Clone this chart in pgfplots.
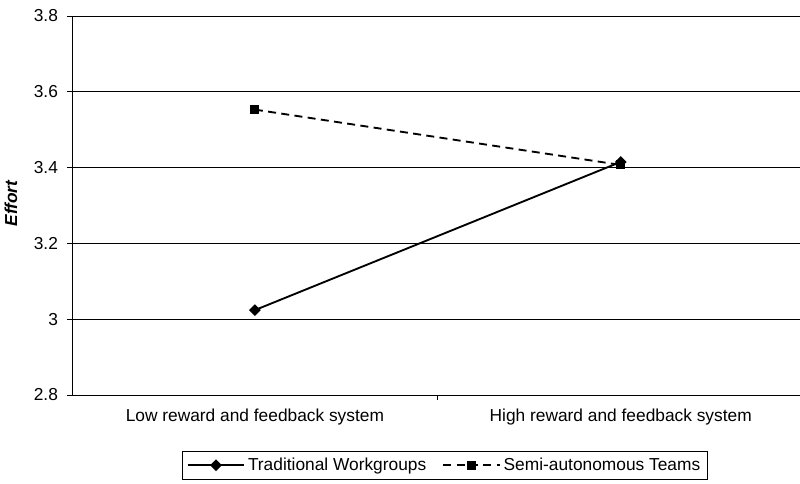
\documentclass[border=0pt]{standalone}
\usepackage{pgfplots}
\pgfplotsset{compat=1.18}
\usepackage{fontspec}
\setmainfont{Liberation Sans}
\begin{document}
\begin{tikzpicture}
\useasboundingbox (-54pt,-66pt) rectangle (546pt,296.25pt);
\begin{axis}[
    at={(0pt,0pt)}, anchor=south west,
    scale only axis,
    width=546pt, height=284.25pt,
    xmin=0, xmax=1.99,
    ymin=2.8, ymax=3.8,
    ytick={2.8,3.0,3.2,3.4,3.6,3.8},
    /pgf/number format/assume math mode=true,
    axis x line*=bottom, axis y line*=left,
    axis line style={black, line width=0.7pt},
    ymajorgrids=true,
    grid style={black, line width=0.6pt},
    tick align=outside,
    major tick length=4pt,
    tick style={black, line width=0.7pt},
    xtick={0.5,1.5},
    xticklabels={Low reward and feedback system, High reward and feedback system},
    major x tick style={draw=none},
    extra x ticks={1},
    extra x tick labels={},
    extra x tick style={major x tick style={draw=black, line width=0.7pt}, grid=none},
    yticklabel style={font=\fontsize{13}{15}\selectfont, xshift=-3pt},
    xticklabel style={font=\fontsize{13}{15}\selectfont, yshift=-3pt},
    ylabel={\bfseries\itshape Effort},
    ylabel style={font=\fontsize{13}{15}\selectfont, at={(axis description cs:-0.084,0.505)}, anchor=center},
    legend style={at={(axis description cs:0.512,-0.148)}, anchor=north,
        legend columns=2, draw=black,
        font=\fontsize{13}{15}\selectfont,
        inner sep=3pt,
        /tikz/every even column/.append style={column sep=10pt}},
    legend image code/.code={\draw[line width=1.4pt, mark repeat=2, mark phase=2] plot coordinates {(0cm,0cm)(0.75cm,0cm)(1.5cm,0cm)};},
]
\addplot[black, line width=1.4pt, mark=square*, mark size=2.4pt, mark options={rotate=45, solid}]
    coordinates {(0.5,3.024)(1.5,3.415)};
\addlegendentry{Traditional Workgroups}
\addplot[black, line width=1.4pt, dash pattern=on 6pt off 4pt, mark=square*, mark size=2.7pt, mark options={solid}]
    coordinates {(0.5,3.553)(1.5,3.407)};
\addlegendentry{Semi-autonomous Teams}
\end{axis}
\end{tikzpicture}
\end{document}
